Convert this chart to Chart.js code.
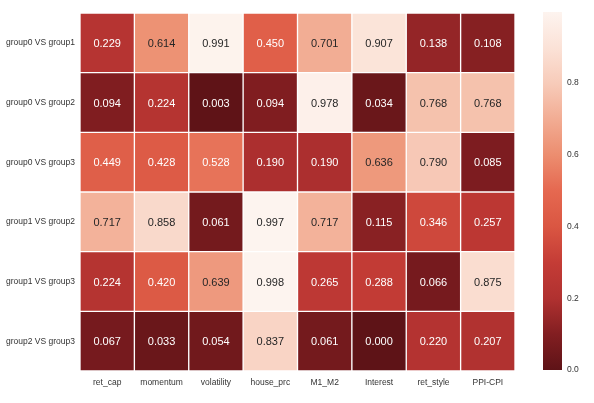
<!DOCTYPE html>
<html>
<head>
<meta charset="utf-8">
<script src="https://cdn.jsdelivr.net/npm/chart.js@4/dist/chart.umd.min.js"></script>
<style>
  html, body { margin: 0; padding: 0; background: #fff; }
  #wrap { position: relative; width: 594px; height: 403px; }
  #heat { position: absolute; left: 0; top: 0; }
  #cbar { position: absolute; left: 530px; top: 0; }
</style>
</head>
<body>
<div id="wrap">
  <canvas id="heat" width="530" height="403"></canvas>
  <canvas id="cbar" width="64" height="403"></canvas>
</div>
<script>
const colunas = ['ret_cap', 'momentum', 'volatility', 'house_prc', 'M1_M2', 'Interest', 'ret_style', 'PPI-CPI'];
const linhas = ['group0 VS group1', 'group0 VS group2', 'group0 VS group3', 'group1 VS group2', 'group1 VS group3', 'group2 VS group3'];

const g0g1 = [0.229, 0.614, 0.991, 0.450, 0.701, 0.907, 0.138, 0.108];
const g0g2 = [0.094, 0.224, 0.003, 0.094, 0.978, 0.034, 0.768, 0.768];
const g0g3 = [0.449, 0.428, 0.528, 0.190, 0.190, 0.636, 0.790, 0.085];
const g1g2 = [0.717, 0.858, 0.061, 0.997, 0.717, 0.115, 0.346, 0.257];
const g1g3 = [0.224, 0.420, 0.639, 0.998, 0.265, 0.288, 0.066, 0.875];
const g2g3 = [0.067, 0.033, 0.054, 0.837, 0.061, 0.000, 0.220, 0.207];
const valores = [g0g1, g0g2, g0g3, g1g2, g1g3, g2g3];

const escalaTicks = [0, 0.2, 0.4, 0.6, 0.8];
const vmin = 0;
const vmax = 0.998;

// reds reversed, a bit washed out like the picture
const paradas = [
  [0.0, [94, 19, 23]],
  [0.1, [130, 30, 33]],
  [0.2, [176, 49, 48]],
  [0.3, [196, 60, 54]],
  [0.4, [218, 86, 66]],
  [0.5, [229, 104, 80]],
  [0.6, [236, 141, 111]],
  [0.7, [242, 172, 147]],
  [0.8, [247, 203, 185]],
  [0.9, [251, 226, 215]],
  [1.0, [253, 244, 239]]
];

function corRgb(t) {
  t = Math.max(0, Math.min(1, t));
  for (let i = 1; i < paradas.length; i++) {
    if (t <= paradas[i][0]) {
      const [t0, c0] = paradas[i - 1];
      const [t1, c1] = paradas[i];
      const f = (t - t0) / (t1 - t0);
      return c0.map((c, k) => Math.round(c + (c1[k] - c) * f));
    }
  }
  return paradas[paradas.length - 1][1];
}

function cor(v) {
  const c = corRgb((v - vmin) / (vmax - vmin));
  return `rgb(${c[0]},${c[1]},${c[2]})`;
}

function luminancia(c) {
  const lin = c.map(x => {
    x = x / 255;
    return x <= 0.03928 ? x / 12.92 : Math.pow((x + 0.055) / 1.055, 2.4);
  });
  return 0.2126 * lin[0] + 0.7152 * lin[1] + 0.0722 * lin[2];
}

const fonte = '"Liberation Sans", Arial, sans-serif';

const anotacoes = {
  id: 'anotacoes',
  afterDatasetsDraw(chart) {
    const ctx = chart.ctx;
    ctx.save();
    ctx.font = `11px ${fonte}`;
    ctx.textAlign = 'center';
    ctx.textBaseline = 'middle';
    chart.data.datasets.forEach((ds, r) => {
      const meta = chart.getDatasetMeta(r);
      meta.data.forEach((bar, i) => {
        const v = valores[r][i];
        const lum = luminancia(corRgb((v - vmin) / (vmax - vmin)));
        ctx.fillStyle = lum > 0.35 ? '#262626' : '#ffffff';
        const p = bar.getCenterPoint();
        ctx.fillText(v.toFixed(3), p.x, p.y + 1);
      });
    });
    ctx.restore();
  }
};

new Chart(document.getElementById('heat'), {
  type: 'bar',
  data: {
    labels: colunas,
    datasets: valores.map((linha, r) => ({
      label: linhas[r],
      data: linha.map(() => [r, r + 1]),
      backgroundColor: linha.map(v => cor(v)),
      borderColor: '#ffffff',
      borderWidth: 1,
      borderSkipped: false,
      barPercentage: 1,
      categoryPercentage: 1,
      grouped: false
    }))
  },
  options: {
    responsive: false,
    animation: false,
    layout: { padding: { top: 13, right: 15, left: 0, bottom: 0 } },
    plugins: { legend: { display: false }, tooltip: { enabled: false } },
    scales: {
      x: {
        grid: { display: false, drawTicks: false },
        border: { display: false },
        ticks: { color: '#333', font: { family: fonte, size: 8.5 }, padding: 7, maxRotation: 0 },
        afterFit(s) { s.height = 32; }
      },
      y: {
        reverse: true,
        min: 0,
        max: linhas.length,
        grid: { display: false, drawTicks: false },
        border: { display: false },
        afterBuildTicks(s) { s.ticks = linhas.map((_, i) => ({ value: i + 0.5 })); },
        ticks: {
          color: '#333',
          font: { family: fonte, size: 8.5 },
          padding: 5,
          callback: v => linhas[Math.floor(v)]
        },
        afterFit(s) { s.width = 80; }
      }
    }
  },
  plugins: [anotacoes]
});

new Chart(document.getElementById('cbar'), {
  type: 'bar',
  data: {
    labels: [''],
    datasets: [{
      data: [[vmin, vmax]],
      backgroundColor(c) {
        const area = c.chart.chartArea;
        if (!area) return '#fff';
        const g = c.chart.ctx.createLinearGradient(0, area.bottom, 0, area.top);
        paradas.forEach(([t, rgb]) => g.addColorStop(t, `rgb(${rgb[0]},${rgb[1]},${rgb[2]})`));
        return g;
      },
      borderWidth: 0,
      barPercentage: 1,
      categoryPercentage: 1
    }]
  },
  options: {
    responsive: false,
    animation: false,
    layout: { padding: { top: 12, bottom: 33, left: 13, right: 0 } },
    plugins: { legend: { display: false }, tooltip: { enabled: false } },
    scales: {
      x: { display: false },
      y: {
        position: 'right',
        min: vmin,
        max: vmax,
        grid: { display: false, drawTicks: false },
        border: { display: false },
        afterBuildTicks(s) { s.ticks = escalaTicks.map(v => ({ value: v })); },
        ticks: { color: '#333', font: { family: fonte, size: 8.5 }, padding: 5, callback: v => v.toFixed(1) },
        afterFit(s) { s.width = 32; }
      }
    }
  }
});
</script>
</body>
</html>
